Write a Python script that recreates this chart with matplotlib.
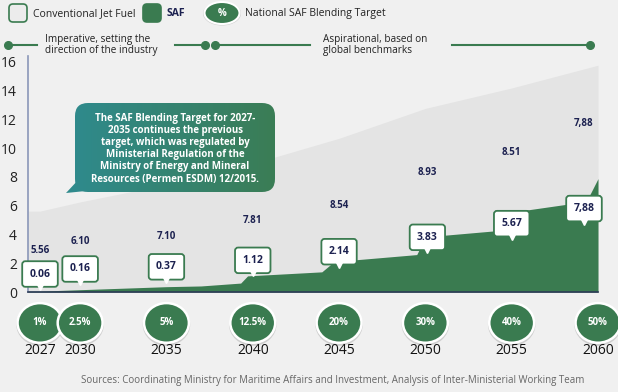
import numpy as np
import matplotlib.pyplot as plt
from matplotlib.patches import Ellipse, FancyBboxPatch, Polygon
from matplotlib.transforms import blended_transform_factory, offset_copy

plt.rcParams['font.family'] = ['Open Sans', 'DejaVu Sans']

# data
years = [2027, 2030, 2035, 2040, 2045, 2050, 2055, 2060]
conventional = [5.56, 6.10, 7.10, 7.81, 8.54, 8.93, 8.51, 7.88]
saf = [0.06, 0.16, 0.37, 1.12, 2.14, 3.83, 5.67, 7.88]
conv_labels = ['5.56', '6.10', '7.10', '7.81', '8.54', '8.93', '8.51', '7,88']
saf_labels = ['0.06', '0.16', '0.37', '1.12', '2.14', '3.83', '5.67', '7,88']
targets = ['1%', '2.5%', '5%', '12.5%', '20%', '30%', '40%', '50%']
# top edge of the SAF area (steps near each target year)
saf_edge_years = [2027, 2030, 2035, 2037, 2039.3, 2039.7, 2044.0, 2044.6, 2045,
                  2049.5, 2050, 2054.5, 2055, 2056, 2058.5, 2059.5, 2060]
saf_edge_vals = [0.06, 0.16, 0.37, 0.42, 0.62, 1.12, 1.40, 2.00, 2.14,
                 2.60, 3.83, 4.30, 5.67, 5.72, 6.15, 6.70, 7.88]

# label layout
conv_label_y = [2.9, 3.5, 3.85, 5.0, 6.0, 8.3, 9.7, 11.7]
saf_label_y = [1.25, 1.6, 1.75, 2.2, 2.8, 3.8, 4.75, 5.8]
label_dx = [0, 0, 0, 0, 0, 2, 0, -14]   # pixels

GREEN = '#3a7b50'
NAVY = '#1c2150'
BG = '#f0f0f0'

def pos(y):
    return np.interp(y, [2027, 2030, 2060], [0.535, 1, 7])

fig = plt.figure(figsize=(6.18, 3.92), dpi=100, facecolor=BG)
ax = fig.add_axes([28/618, 100/392, 570/618, 236/392])
ax.set_facecolor(BG)
xl = 0.396
ax.set_xlim(xl, 7.0)
ax.set_ylim(0, 16.4)

x = pos(np.array(years))
total = np.array(saf) + np.array(conventional)
ax.fill_between(np.r_[xl, x], 0, np.r_[total[0], total], color='#e4e4e4', lw=0, zorder=1)
xe = pos(np.array(saf_edge_years))
ax.fill_between(np.r_[xl, xe], 0, np.r_[saf_edge_vals[0], saf_edge_vals], color=GREEN, lw=0, zorder=2)

for s in ['top', 'right']:
    ax.spines[s].set_visible(False)
ax.spines['left'].set_color('#8a97b8')
ax.spines['left'].set_linewidth(1.2)
ax.spines['bottom'].set_color('#2d3b57')
ax.spines['bottom'].set_linewidth(1.2)
ax.set_xticks([])
ax.set_yticks(np.arange(0, 17, 2))
ax.tick_params(axis='y', length=0, pad=8, labelsize=10, labelcolor='#222222')

# conventional value labels
for xi, yi, lab, dx in zip(x, conv_label_y, conv_labels, label_dx):
    t = offset_copy(ax.transData, fig=fig, x=dx, y=0, units='dots')
    ax.text(xi, yi, lab, ha='center', va='center', fontsize=7, fontweight='bold',
            color=NAVY, zorder=4, transform=t)

# SAF value boxes with pointer
for xi, yi, lab, dx in zip(x, saf_label_y, saf_labels, label_dx):
    t = offset_copy(ax.transData, fig=fig, x=dx, y=0, units='dots')
    ptr = offset_copy(ax.transData, fig=fig, x=dx, y=-13, units='dots')
    ax.text(xi, yi, lab, ha='center', va='center', fontsize=7.5, fontweight='bold',
            color=NAVY, zorder=6, transform=t,
            bbox=dict(boxstyle='round,pad=0.7,rounding_size=0.3', fc='white',
                      ec=GREEN, lw=1.3))
    ax.plot([xi], [yi], marker='v', ms=5, color='white', mec='white',
            transform=ptr, zorder=7, clip_on=False)

# blending target ellipses and years
tr = blended_transform_factory(ax.transData, ax.transAxes)
for xi, t, yr in zip(x, targets, years):
    ax.add_patch(Ellipse((xi, -0.138), 0.55, 0.18, transform=tr, fc='#cfcfcf',
                         ec='none', clip_on=False, zorder=3))
    ax.add_patch(Ellipse((xi, -0.131), 0.52, 0.168, transform=tr, fc=GREEN,
                         ec='white', lw=1.8, clip_on=False, zorder=4))
    ax.text(xi, -0.131, t, transform=tr, ha='center', va='center', fontsize=7,
            fontweight='bold', color='white', zorder=5)
    ax.text(xi, -0.246, str(yr), transform=tr, ha='center', va='center',
            fontsize=10, color='#111111')

fig.text(333/618, 1 - 380/392,
         'Sources: Coordinating Ministry for Maritime Affairs and Investment, '
         'Analysis of Inter-Ministerial Working Team',
         ha='center', va='center', fontsize=7, color='#666666')

# overlay for legend, phase lines and call-out bubble (pixel coords)
ov = fig.add_axes([0, 0, 1, 1], zorder=5)
ov.set_xlim(0, 618)
ov.set_ylim(392, 0)
ov.axis('off')
ov.patch.set_alpha(0)

ov.add_patch(FancyBboxPatch((9, 4), 18, 18, boxstyle='round,pad=0,rounding_size=4',
                            fc='#ececec', ec=GREEN, lw=1.2))
ov.text(33, 13.5, 'Conventional Jet Fuel', va='center', fontsize=7.5, color='#222222')
ov.add_patch(FancyBboxPatch((143, 4), 18, 18, boxstyle='round,pad=0,rounding_size=4',
                            fc=GREEN, ec=GREEN, lw=1.2))
ov.text(167, 13.5, 'SAF', va='center', fontsize=7.5, fontweight='bold', color=NAVY)
ov.add_patch(Ellipse((222, 13.5), 38, 24, fc='#cfcfcf', ec='none'))
ov.add_patch(Ellipse((222, 13), 35, 22, fc=GREEN, ec='white', lw=1.5))
ov.text(222, 13.5, '%', ha='center', va='center', fontsize=7, fontweight='bold',
        color='white')
ov.text(245, 13.5, 'National SAF Blending Target', va='center', fontsize=7.5,
        color='#222222')

ly = 45
for x0, x1, dots in [(8, 37, [8]), (175, 205, [205]), (215, 310, [215]),
                     (452, 590, [590])]:
    ov.plot([x0, x1], [ly, ly], color=GREEN, lw=1.5)
    ov.plot(dots, [ly] * len(dots), 'o', color=GREEN, ms=5.5)
ov.text(45, ly, 'Imperative, setting the\ndirection of the industry', va='center',
        fontsize=7.2, color='#222222', linespacing=1.0)
ov.text(323, ly, 'Aspirational, based on\nglobal benchmarks', va='center',
        fontsize=7.2, color='#222222', linespacing=1.0)

# call-out bubble with gradient fill
bx, by, bw, bh = 75, 103, 200, 89
ov.add_patch(Polygon([(80, 178), (66, 193), (96, 190)], closed=True, fc='#2f8a8c',
                     ec='none'))
box = FancyBboxPatch((bx, by), bw, bh, boxstyle='round,pad=0,rounding_size=13',
                     fc='none', ec='none')
ov.add_patch(box)
grad = np.linspace(0, 1, 256).reshape(1, -1)
im = ov.imshow(grad, extent=(bx, bx + bw, by + bh, by), aspect='auto',
               cmap=plt.matplotlib.colors.LinearSegmentedColormap.from_list(
                   'g', ['#2f8a8c', '#3b7d55']), zorder=2)
im.set_clip_path(box)
ov.set_xlim(0, 618)
ov.set_ylim(392, 0)
ov.text(bx + bw / 2, by + bh / 2 + 1,
        'The SAF Blending Target for 2027-\n2035 continues the previous\n'
        'target, which was regulated by\nMinisterial Regulation of the\n'
        'Ministry of Energy and Mineral\nResources (Permen ESDM) 12/2015.',
        ha='center', va='center', fontsize=7, fontweight='bold', color='white',
        linespacing=1.15, zorder=3)

fig.savefig('out.png', dpi=100, facecolor=BG)
